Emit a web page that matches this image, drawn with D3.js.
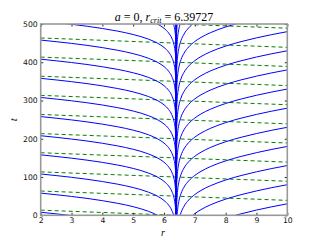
<!DOCTYPE html>
<html>
<head>
<meta charset="utf-8">
<script src="https://cdn.jsdelivr.net/npm/d3@7"></script>
<style>
  body { margin: 0; background: #fff; }
  svg { display: block; }
  .tick text { font-family: "DejaVu Sans", sans-serif; font-size: 7.7px; fill: #111; }
  .tick line { stroke: #222; }
</style>
</head>
<body>
<svg id="chart"></svg>
<script>
// tick values
const xTicks = [2, 3, 4, 5, 6, 7, 8, 9, 10];
const yTicks = [0, 100, 200, 300, 400, 500];
const rCrit = 6.39727;

// left branch: how far t has dropped from its value at r = 2
const leftR    = [2, 2.5, 3, 3.5, 4, 4.5, 5, 5.5, 5.8, 6, 6.15, 6.25, 6.32, 6.36, 6.38, 6.39, 6.395, 6.397, 6.39727];
const leftDrop = [0, 4.2, 8.7, 13.8, 19.7, 26.7, 35.5, 47.7, 58.6, 69.2, 81.4, 94.6, 111, 129, 148.5, 170, 199, 252, 1200];
// t at r = 2 for every left curve
const leftStart = [8, 58, 108, 158, 208, 258, 308, 358, 408, 458, 508, 558, 608, 658, 708, 758, 808];

// right branch: how far t has dropped from its value at r = 10
const rightR    = [rCrit, 6.40, 6.41, 6.42, 6.44, 6.48, 6.55, 6.65, 6.8, 7, 7.2, 7.5, 8, 8.5, 9, 9.5, 10];
const rightDrop = [1200, 257, 206, 187, 166, 144, 123.5, 106.3, 90.1, 75.7, 65.1, 52.9, 37.8, 26.1, 16.3, 7.7, 0];
// t at r = 10 for every right curve
const rightStart = [30, 80, 130, 180, 230, 280, 330, 380, 430, 480, 530, 580, 630, 680, 730, 780, 830];

// green dashed lines: t at r_crit, and the tilt across the plot
const greenLevel = [0, 50, 100, 150, 200, 250, 300, 350, 400, 450, 500];
const greenR     = [2, rCrit, 10];
const greenShift = [13.5, 0, -11];

const width = 320, height = 240;
const svg = d3.select('#chart').attr('width', width).attr('height', height);

const x = d3.scaleLinear().domain([2, 10]).range([40.7, 287.3]);
const y = d3.scaleLinear().domain([0, 500]).range([215.3, 24]);

svg.append('defs').append('clipPath').attr('id', 'plotclip')
  .append('rect')
  .attr('x', x(2)).attr('y', y(500))
  .attr('width', x(10) - x(2)).attr('height', y(0) - y(500));

const plot = svg.append('g').attr('clip-path', 'url(#plotclip)');

const line = d3.line()
  .x(d => x(d[0]))
  .y(d => y(d[1]))
  .curve(d3.curveMonotoneX);

// green dashed
greenLevel.forEach(level => {
  const pts = greenR.map((r, i) => [r, level + greenShift[i]]);
  plot.append('path')
    .attr('d', d3.line().x(d => x(d[0])).y(d => y(d[1]))(pts))
    .attr('fill', 'none')
    .attr('stroke', '#008000')
    .attr('stroke-width', 1)
    .attr('stroke-dasharray', '4,3');
});

// blue curves
leftStart.forEach(t0 => {
  const pts = leftR.map((r, i) => [r, t0 - leftDrop[i]]);
  plot.append('path').attr('d', line(pts))
    .attr('fill', 'none').attr('stroke', '#0000ff').attr('stroke-width', 1);
});
rightStart.forEach(t0 => {
  const pts = rightR.map((r, i) => [r, t0 - rightDrop[i]]);
  plot.append('path').attr('d', line(pts))
    .attr('fill', 'none').attr('stroke', '#0000ff').attr('stroke-width', 1);
});

// axes (ticks point inward on all four sides)
const tick = 2.5;
svg.append('g').attr('transform', `translate(0,${y(0)})`)
  .call(d3.axisBottom(x).tickValues(xTicks).tickSizeInner(-tick).tickSizeOuter(0).tickPadding(2.5))
  .call(g => g.select('.domain').remove());
svg.append('g').attr('transform', `translate(0,${y(500)})`)
  .call(d3.axisTop(x).tickValues(xTicks).tickSizeInner(-tick).tickSizeOuter(0).tickFormat(''))
  .call(g => g.select('.domain').remove());
svg.append('g').attr('transform', `translate(${x(2)},0)`)
  .call(d3.axisLeft(y).tickValues(yTicks).tickSizeInner(-tick).tickSizeOuter(0).tickPadding(3))
  .call(g => g.select('.domain').remove());
svg.append('g').attr('transform', `translate(${x(10)},0)`)
  .call(d3.axisRight(y).tickValues(yTicks).tickSizeInner(-tick).tickSizeOuter(0).tickFormat(''))
  .call(g => g.select('.domain').remove());

// frame
svg.append('rect')
  .attr('x', x(2)).attr('y', y(500))
  .attr('width', x(10) - x(2)).attr('height', y(0) - y(500))
  .attr('fill', 'none').attr('stroke', '#999').attr('stroke-width', 1.6);

// title
const title = svg.append('text')
  .attr('x', (x(2) + x(10)) / 2).attr('y', 20.5)
  .attr('text-anchor', 'middle')
  .style('font-family', '"Liberation Serif", serif')
  .style('font-size', '12px');
title.append('tspan').style('font-style', 'italic').text('a');
title.append('tspan').text(' = 0, ');
title.append('tspan').style('font-style', 'italic').text('r');
title.append('tspan').attr('dy', 2).style('font-size', '8px').style('font-style', 'italic').text('crit');
title.append('tspan').attr('dy', -2).text(' = 6.39727');

// axis labels
svg.append('text')
  .attr('x', (x(2) + x(10)) / 2 - 1).attr('y', 236)
  .attr('text-anchor', 'middle')
  .style('font-family', '"Liberation Serif", serif')
  .style('font-style', 'italic')
  .style('font-size', '10px')
  .text('r');
svg.append('text')
  .attr('transform', `translate(17,${(y(0) + y(500)) / 2}) rotate(-90)`)
  .attr('text-anchor', 'middle')
  .style('font-family', '"Liberation Serif", serif')
  .style('font-style', 'italic')
  .style('font-size', '11px')
  .text('t');
</script>
</body>
</html>
